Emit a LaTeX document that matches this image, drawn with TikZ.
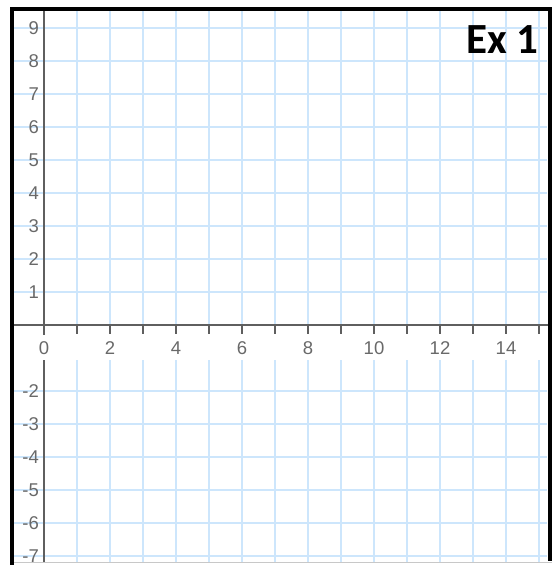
\documentclass[tikz,border=0pt]{standalone}
\usepackage{fontspec}
\setmainfont{Liberation Sans}
\newfontfamily\exfont{Carlito}
\definecolor{gridblue}{RGB}{205,230,252}
\definecolor{axisgray}{RGB}{95,95,95}
\definecolor{labelgray}{RGB}{105,105,105}
\definecolor{bottomgray}{RGB}{200,200,200}
\tikzset{
  gridline/.style={gridblue,line width=1.5pt},
  axisline/.style={axisgray,line width=1.6pt},
  tickline/.style={axisgray,line width=1.3pt},
  numlabel/.style={text=labelgray,font=\fontsize{18.5}{18.5}\selectfont,inner sep=0pt},
  framestyle/.style={black,line width=4pt}
}
\begin{document}
\begin{tikzpicture}[x=1pt,y=-1pt]
\useasboundingbox (0,0) rectangle (555,565);
\fill[white] (0,0) rectangle (555,565);
% grid
\foreach \i in {1,...,15} \draw[gridline] ({44+33*\i},9) -- ({44+33*\i},563);
\foreach \j in {-7,...,9} \draw[gridline] (13,{325-33*\j}) -- (547,{325-33*\j});
% white band behind x labels
\fill[white] (13,334) rectangle (547,360);
% axes
\draw[axisline] (13,325) -- (549,325);
\draw[axisline] (44,11) -- (44,335);
\draw[axisline] (44,360) -- (44,563);
% ticks
\foreach \i in {1,...,15} \draw[tickline] ({44+33*\i},325) -- ({44+33*\i},334);
% x labels
\foreach \i in {0,2,...,14} \node[numlabel] (xl\i) at ({44+33*\i},348) {\i};
% y labels
\foreach \j in {1,...,9} \node[numlabel,anchor=east] (yl\j) at (39,{325-33*\j}) {\j};
\foreach \j in {2,...,7} \node[numlabel,anchor=east] (ym\j) at (39,{325+33*\j}) {-\j};
% title
\node[anchor=base east,inner sep=0pt,font=\exfont\bfseries\fontsize{43}{43}\selectfont] (title) at (539,53) {Ex 1};
% frame
\draw[bottomgray,line width=1.5pt] (11.5,562.5) -- (552,562.5);
\draw[framestyle] (11.5,565) -- (11.5,9) -- (549.5,9) -- (549.5,561);
\end{tikzpicture}
\end{document}
